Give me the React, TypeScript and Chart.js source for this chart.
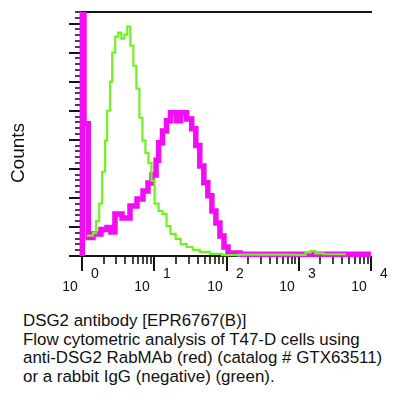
import React, { useEffect, useRef } from 'react';
import { Chart, registerables } from 'chart.js';

Chart.register(...registerables);

// ---- Data ----
// Anti-DSG2 (magenta / "red") histogram: channel (bin start) and counts
const redChannels = [1.01, 1.01, 1.066, 1.22, 1.42, 1.83, 2.22, 2.52, 2.86, 3.58, 4.62, 5.77, 6.99, 8.19, 9.31, 10.6, 11.5, 13.0, 14.8, 16.8, 20.4, 23.2, 28.1, 33.0, 37.6, 42.7, 48.6, 55.2, 62.8, 71.4, 81.1, 92.3, 105, 154, 10000];
const redCounts = [0, 100, 45.5, 6.4, 7.6, 9.1, 9.8, 8.3, 14.5, 13.1, 17.2, 19.6, 22.4, 25.1, 27.9, 33, 39, 43, 46.6, 49.3, 46.6, 49.3, 47.2, 43.8, 38, 31, 25.2, 20.7, 15.5, 11.4, 6.9, 3.1, 1, 0.6, 0.6];

// Rabbit IgG negative control (green) histogram
const greenChannels = [1.17, 1.42, 1.57, 1.73, 1.90, 2.09, 2.23, 2.45, 2.62, 2.88, 3.17, 3.50, 3.85, 4.24, 4.67, 5.14, 5.66, 6.23, 6.86, 7.55, 8.31, 9.16, 10.1, 11.5, 13.0, 14.8, 16.8, 19.8, 23.2, 28.1, 34.1, 42.7, 58.9, 86.5, 150, 900, 1240, 1460, 1700, 2200, 4500];
const greenCounts = [7, 7.9, 12, 18, 29, 39.7, 50, 60, 70, 75.5, 76.9, 74.8, 76.2, 79, 72.4, 65.5, 57.6, 47.6, 39.7, 35.5, 32, 25.9, 18, 15.5, 14.5, 10.3, 7.6, 5.9, 4.1, 3.1, 2.1, 1.4, 0.7, 0.3, 0.5, 0.4, 1.2, 1.8, 0.9, 0.6, 0.6];

// Axis ticks
const xDecadeExponents = ['0', '1', '2', '3', '4'];
const xMinorMultipliers = [2, 3, 4, 5, 6, 7, 8, 9];
const yMax = 84;
const yMinorStep = 2;
const yMajorStep = 10;

const yTitle = 'Counts';
const captionLines = [
  'DSG2 antibody [EPR6767(B)]',
  'Flow cytometric analysis of T47-D cells using',
  'anti-DSG2 RabMAb (red) (catalog # GTX63511)',
  'or a rabbit IgG (negative) (green).',
];

const FONT = '"Liberation Sans", Arial, Helvetica, sans-serif';

const axesPlugin = {
  id: 'facsAxes',
  beforeDatasetsDraw(chart: any) {
    const { ctx, chartArea: ca, scales } = chart;
    const xs = scales.x;
    const ys = scales.y;
    ctx.save();
    ctx.strokeStyle = '#151515';
    ctx.lineCap = 'butt';

    // frame: top, left, bottom
    ctx.lineWidth = 2;
    ctx.beginPath();
    ctx.moveTo(ca.left - 1, ca.top);
    ctx.lineTo(ca.right + 1, ca.top);
    ctx.stroke();
    ctx.beginPath();
    ctx.moveTo(ca.left, ca.top);
    ctx.lineTo(ca.left, ca.bottom + 1);
    ctx.stroke();
    ctx.beginPath();
    ctx.moveTo(ca.left - 1, ca.bottom);
    ctx.lineTo(ca.right, ca.bottom);
    ctx.stroke();

    // y ticks (pointing left)
    for (let v = 0; v <= yMax + 1e-9; v += yMinorStep) {
      const py = Math.round(ys.getPixelForValue(v));
      const major = Math.abs(v % yMajorStep) < 1e-9;
      ctx.lineWidth = major ? 2 : 1.6;
      ctx.beginPath();
      ctx.moveTo(ca.left - (major ? 13 : 7), py);
      ctx.lineTo(ca.left, py);
      ctx.stroke();
    }

    // x ticks (pointing down)
    xDecadeExponents.forEach((e, i) => {
      const base = Math.pow(10, i);
      const px = Math.round(xs.getPixelForValue(base));
      ctx.lineWidth = 2;
      ctx.beginPath();
      ctx.moveTo(px, ca.bottom);
      ctx.lineTo(px, ca.bottom + 15);
      ctx.stroke();
      if (i < xDecadeExponents.length - 1) {
        xMinorMultipliers.forEach((m) => {
          const mx = Math.round(xs.getPixelForValue(m * base));
          ctx.lineWidth = 1.6;
          ctx.beginPath();
          ctx.moveTo(mx, ca.bottom);
          ctx.lineTo(mx, ca.bottom + 8);
          ctx.stroke();
        });
      }
      // labels: "10" with exponent to the upper right
      ctx.fillStyle = '#111';
      ctx.font = `14px ${FONT}`;
      ctx.textAlign = 'center';
      ctx.textBaseline = 'middle';
      ctx.fillText('10', px - 12, ca.bottom + 31);
      ctx.fillText(e, px + 13, ca.bottom + 18);
    });

    // y title
    ctx.save();
    ctx.translate(19, 153);
    ctx.rotate(-Math.PI / 2);
    ctx.font = `19px ${FONT}`;
    ctx.fillStyle = '#111';
    ctx.textAlign = 'center';
    ctx.textBaseline = 'middle';
    ctx.fillText(yTitle, 0, 0);
    ctx.restore();

    ctx.restore();
  },
};

export default function App() {
  const canvasRef = useRef<HTMLCanvasElement | null>(null);

  useEffect(() => {
    const canvas = canvasRef.current;
    if (!canvas) return;
    const chart = new Chart(canvas, {
      type: 'line',
      data: {
        datasets: [
          {
            label: 'rabbit IgG (negative)',
            data: greenChannels.map((c, i) => ({ x: c, y: greenCounts[i] })),
            borderColor: '#72f022',
            borderWidth: 2.2,
            stepped: true,
            pointRadius: 0,
            fill: false,
            tension: 0,
            order: 0,
            clip: { left: 6, right: 6, top: 0, bottom: 6 },
          },
          {
            label: 'anti-DSG2 RabMAb',
            data: redChannels.map((c, i) => ({ x: c, y: redCounts[i] })),
            borderColor: '#f20df2',
            borderWidth: 5.5,
            stepped: true,
            pointRadius: 0,
            fill: false,
            tension: 0,
            order: 1,
            clip: { left: 6, right: 6, top: 0, bottom: 6 },
          },
        ],
      },
      options: {
        responsive: false,
        animation: false,
        devicePixelRatio: 1,
        layout: { padding: { left: 82, right: 25, top: 12, bottom: 44 } },
        plugins: { legend: { display: false }, tooltip: { enabled: false }, title: { display: false } },
        events: [],
        scales: {
          x: { type: 'logarithmic', min: 1, max: 10000, display: false },
          y: { type: 'linear', min: 0, max: yMax, display: false },
        },
      },
      plugins: [axesPlugin],
    } as any);
    return () => chart.destroy();
  }, []);

  return (
    <div style={{ position: 'absolute', left: 0, top: 0, width: 396, height: 400, background: '#fff', overflow: 'hidden' }}>
      <canvas ref={canvasRef} width={396} height={300} style={{ position: 'absolute', left: 0, top: 0, width: 396, height: 300 }} />
      <div
        style={{
          position: 'absolute',
          left: 23,
          top: 312,
          fontFamily: FONT,
          fontSize: '16.9px',
          lineHeight: '18.6px',
          color: '#111',
          whiteSpace: 'nowrap',
        }}
      >
        {captionLines.map((l, i) => (
          <div key={i}>{l}</div>
        ))}
      </div>
    </div>
  );
}
